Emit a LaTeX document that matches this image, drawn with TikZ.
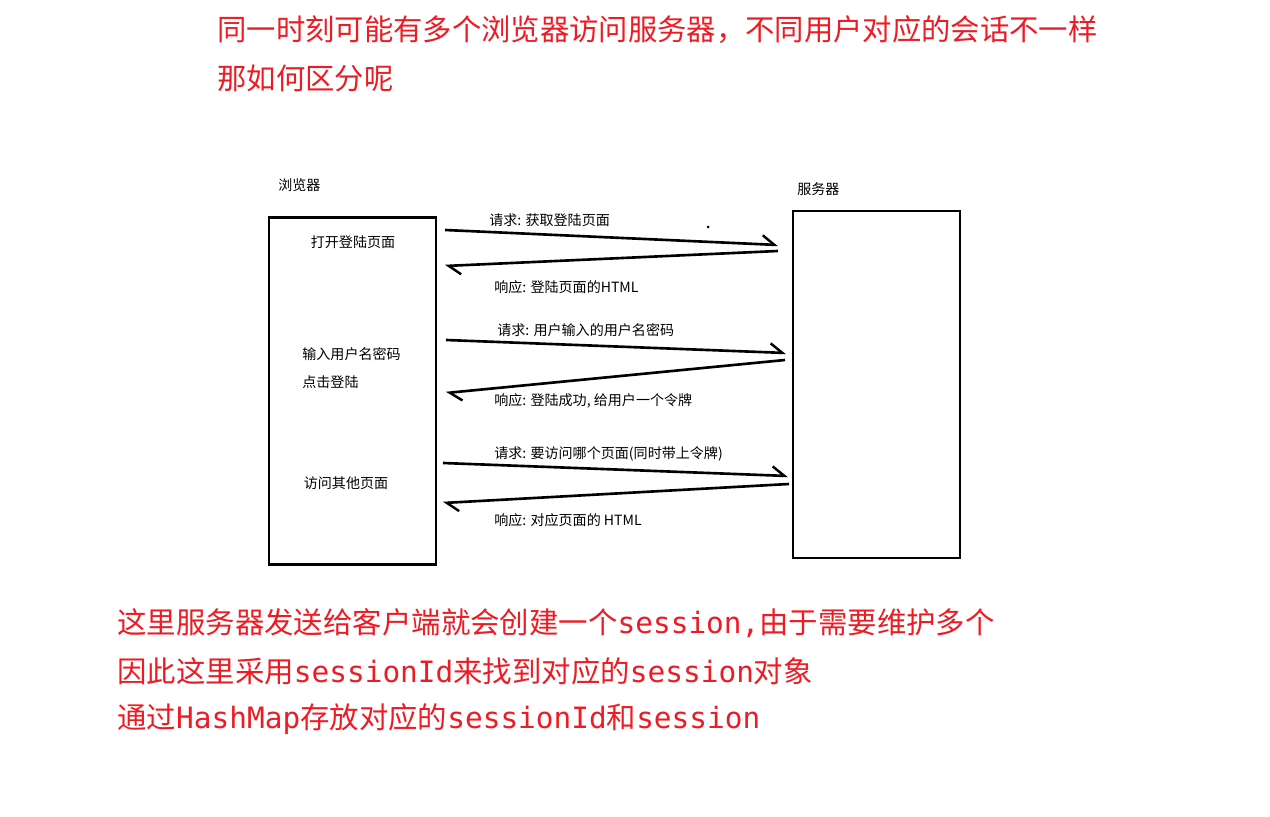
\documentclass[tikz,border=0pt]{standalone}
\usepackage{fontspec}
\setmainfont{Noto Sans CJK SC}
\newfontfamily\codefont{DejaVu Sans Mono}
\definecolor{notered}{RGB}{237, 28, 36}
\usetikzlibrary{arrows.meta}

\begin{document}
\begin{tikzpicture}[x=0.02cm, y=-0.02cm,
  box/.style={draw, line width=1.4pt, minimum width=3.34cm, minimum height=6.95cm, inner sep=0pt},
  msg/.style={-{Straight Barb[harpoon, length=2.4mm, width=3.6mm, line width=1.4pt]}, line width=1.5pt},
  lbl/.style={font=\fontsize{8}{10}\selectfont, inner sep=0pt},
  note/.style={text=notered, inner sep=0pt, anchor=west}]
  \useasboundingbox (0,0) rectangle (1270,817);

  % heading
  \node[note, font=\fontsize{16.7}{27}\selectfont] (q1) at (217,30) {同一时刻可能有多个浏览器访问服务器，不同用户对应的会话不一样};
  \node[note, font=\fontsize{16.7}{27}\selectfont] (q2) at (217,78) {那如何区分呢};

  % the two sides
  \node[box] (browser) at (352.5,391) {};
  \node[box] (server) at (876.5,384.5) {};
  \node[lbl, anchor=west] (browserT) at (278,185) {浏览器};
  \node[lbl, anchor=west] (serverT) at (797,189) {服务器};

  \node[lbl] (open) at (353,242) {打开登陆页面};
  \node[lbl, anchor=west, align=left] (login) at (302,368) {输入用户名密码\\[6pt]点击登陆};
  \node[lbl] (visit) at (346,483) {访问其他页面};

  % message ends
  \coordinate (req1s) at (445,230);  \coordinate (req1e) at (778,245);
  \coordinate (res1s) at (778,251);  \coordinate (res1e) at (445,266);
  \coordinate (req2s) at (446,340);  \coordinate (req2e) at (786,353);
  \coordinate (res2s) at (785,360);  \coordinate (res2e) at (446,393);
  \coordinate (req3s) at (443,463);  \coordinate (req3e) at (788,476);
  \coordinate (res3s) at (789,484);  \coordinate (res3e) at (443,503);

  \draw[msg] (req1s) -- (req1e);
  \draw[msg] (res1s) -- (res1e);
  \draw[msg] (req2s) -- (req2e);
  \draw[msg] (res2s) -- (res2e);
  \draw[msg] (req3s) -- (req3e);
  \draw[msg] (res3s) -- (res3e);
  \fill (708,227) circle (1.5);

  \node[lbl, anchor=west] (req1) at (489,220) {请求: 获取登陆页面};
  \node[lbl, anchor=west] (res1) at (494,287) {响应: 登陆页面的HTML};
  \node[lbl, anchor=west] (req2) at (497,330) {请求: 用户输入的用户名密码};
  \node[lbl, anchor=west] (res2) at (494,401) {响应: 登陆成功, 给用户一个令牌};
  \node[lbl, anchor=west] (req3) at (494,454) {请求: 要访问哪个页面(同时带上令牌)};
  \node[lbl, anchor=west] (res3) at (494,520) {响应: 对应页面的 HTML};

  % explanation
  \node[note, font=\fontsize{16.75}{27}\selectfont] (n1) at (117,623) {这里服务器发送给客户端就会创建一个{\codefont session,}由于需要维护多个};
  \node[note, font=\fontsize{16.75}{27}\selectfont] (n2) at (117,671) {因此这里采用{\codefont sessionId}来找到对应的{\codefont session}对象};
  \node[note, font=\fontsize{16.75}{27}\selectfont] (n3) at (117,719) {通过{\codefont HashMap}存放对应的{\codefont sessionId}和{\codefont session}};
\end{tikzpicture}
\end{document}
